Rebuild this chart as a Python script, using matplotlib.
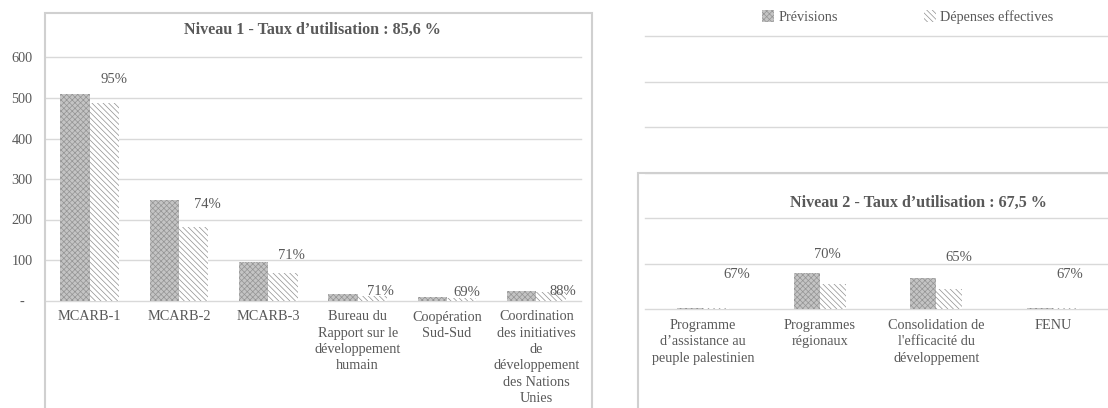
import matplotlib
matplotlib.use("Agg")
import matplotlib.pyplot as plt
from matplotlib.patches import Rectangle, Patch

plt.rcParams['font.family'] = ['Liberation Serif', 'DejaVu Serif']
plt.rcParams['hatch.linewidth'] = 0.5
grey_txt = '#595959'
grid_c = '#d9d9d9'

# Niveau 1
cats1 = ['MCARB-1', 'MCARB-2', 'MCARB-3',
         'Bureau du\nRapport sur le\ndéveloppement\nhumain',
         'Coopération\nSud-Sud',
         'Coordination\ndes initiatives\nde\ndéveloppement\ndes Nations\nUnies']
prev1 = [510, 248, 95, 15, 8, 23]
dep1 = [487, 181, 68, 10.5, 5.5, 20.5]
taux1 = [95, 74, 71, 71, 69, 88]

# Niveau 2
cats2 = ['Programme\nd’assistance au\npeuple palestinien',
         'Programmes\nrégionaux',
         'Consolidation de\nl\'efficacité du\ndéveloppement',
         'FENU']
prev2 = [3, 80, 69, 2]
dep2 = [2, 56, 45, 1.3]
taux2 = [67, 70, 65, 67]

# label offsets (pixels) from top of the "dépenses" bar
off1 = [(10, 24), (14, 23), (8, 17), (8, 5), (5, 6), (12, 1)]
off2 = [(21, 34), (-5, 29), (9, 31), (4, 34)]

W, H = 1108, 408
fig = plt.figure(figsize=(W / 100, H / 100), dpi=100)

prev_style = dict(facecolor='#c4c4c4', edgecolor='#949494', hatch='xxxxxx', linewidth=0)
dep_style = dict(facecolor='white', edgecolor='#8f8f8f', hatch='\\\\\\\\\\\\', linewidth=0)


def draw(ax, cats, prev, dep, taux, offs, bw, pad):
    x = list(range(len(cats)))
    ax.bar([i - bw / 2 for i in x], prev, bw, zorder=2, **prev_style)
    ax.bar([i + bw / 2 for i in x], dep, bw, zorder=2, **dep_style)
    for i in x:
        ax.annotate(f'{taux[i]}%', (i + bw / 2, dep[i]), xytext=offs[i],
                    textcoords='offset pixels', ha='center', va='center',
                    fontsize=10.5, color=grey_txt)
    ax.set_xlim(-0.5, len(cats) - 0.5)
    ax.set_ylim(0, 600)
    ax.set_yticks(range(0, 700, 100))
    ax.yaxis.grid(True, color=grid_c, lw=1)
    for gl in ax.get_ygridlines():
        gl.set_clip_on(False)
    ax.set_axisbelow(True)
    for s in ax.spines.values():
        s.set_visible(False)
    ax.set_xticks(x)
    ax.set_xticklabels(cats, fontsize=10.3, color=grey_txt, linespacing=1.33, va='top')
    ax.tick_params(axis='x', length=0, pad=pad)
    ax.set_facecolor('none')


ax1 = fig.add_axes([45 / W, 1 - 300.5 / H, 536 / W, 243 / H])
draw(ax1, cats1, prev1, dep1, taux1, off1, 0.33, 7.2)
ax1.set_yticklabels(['-', '100', '200', '300', '400', '500', '600'],
                    fontsize=10.3, color=grey_txt)
for lab in ax1.get_yticklabels():
    lab.set_horizontalalignment('center')
ax1.tick_params(axis='y', length=0, pad=16.5)

ax2 = fig.add_axes([644.7 / W, 1 - 309 / H, 466.6 / W, 273 / H])
draw(ax2, cats2, prev2, dep2, taux2, off2, 0.223, 7.2)
ax2.set_yticklabels([])
ax2.tick_params(axis='y', length=0)

# chart frames
fig.add_artist(Rectangle((45 / W, -0.02), 547 / W, (H - 13) / H + 0.02,
                         transform=fig.transFigure, fill=False,
                         edgecolor='#d0d0d0', lw=1.5, zorder=5))
fig.add_artist(Rectangle((638 / W, -0.02), 0.5, (H - 172.7) / H + 0.02,
                         transform=fig.transFigure, fill=False,
                         edgecolor='#d0d0d0', lw=1.5, zorder=5))

fig.text(312 / W, 1 - 30 / H, 'Niveau 1 - Taux d’utilisation : 85,6 %',
         ha='center', va='center', fontsize=11.6, fontweight='bold', color=grey_txt)
fig.text(918 / W, 1 - 203 / H, 'Niveau 2 - Taux d’utilisation : 67,5 %',
         ha='center', va='center', fontsize=11.6, fontweight='bold', color=grey_txt)

handles = [Patch(**prev_style, label='Prévisions'),
           Patch(**dep_style, label='Dépenses effectives')]
fig.legend(handles=handles, loc='center', bbox_to_anchor=(908 / W, 1 - 17 / H),
           ncol=2, frameon=False, fontsize=10.3, handlelength=0.85,
           handleheight=0.85, handletextpad=0.3, columnspacing=6.0,
           labelcolor=grey_txt)

fig.savefig('out.png', dpi=100)
